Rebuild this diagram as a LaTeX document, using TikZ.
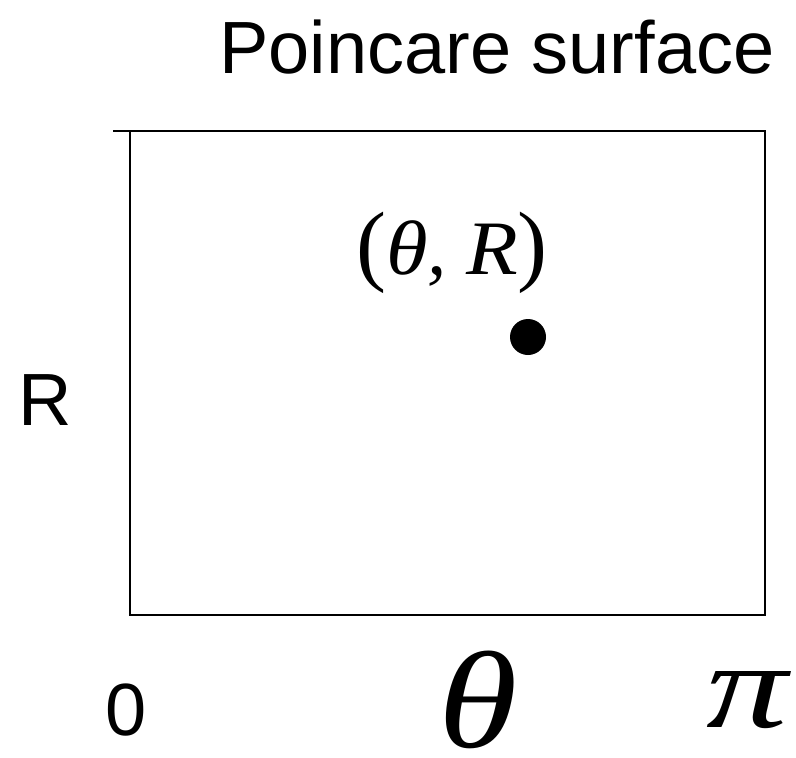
\documentclass[tikz,border=0pt]{standalone}
\usepackage{fontspec}
\usepackage{graphicx}
\setmainfont{Liberation Sans}
\newfontfamily\tms{Liberation Serif}
\usetikzlibrary{positioning}
\newcommand{\wide}[2]{\scalebox{#1}[1]{#2}}
\tikzset{
  lbl/.style={inner sep=0pt,font=\fontsize{74}{74}\selectfont},
  sym/.style={inner sep=0pt,font=\tms\itshape\fontsize{#1}{#1}\selectfont},
}

\begin{document}
\begin{tikzpicture}[x=1pt,y=-1pt,line width=2.3pt]
\useasboundingbox (0,0) rectangle (796,758);
% frame of the section
\coordinate (tick) at (113,131);
\coordinate (tl) at (130,131);
\coordinate (tr) at (765,131);
\coordinate (br) at (765,615);
\coordinate (bl) at (130,615);
\draw (tick)--(tr)--(br)--(bl)--(tl);
\node[lbl,anchor=base west] (title) at (218,73) {Poincare surface};
\node[lbl,anchor=base west] (rlab) at (17,425) {R};
\node[lbl,anchor=base west] (zero) at (104,735) {0};
\node[sym=138,anchor=base west,text depth=0pt] (theta) at (437,747) {\wide{1.17}{θ}};
\node[sym=122,anchor=base west] (pi) at (705,727) {\wide{1.33}{π}};
% the point
\fill (528,337) circle (18) node[coordinate] (pt) {};
\node[sym=77,anchor=base west] (ptlab) at (355,274) {{\upshape\fontsize{90}{90}\selectfont(}\wide{1.1}{θ},\hspace{0.25em}\wide{1.1}{R}{\upshape\fontsize{90}{90}\selectfont)}};
\end{tikzpicture}
\end{document}
